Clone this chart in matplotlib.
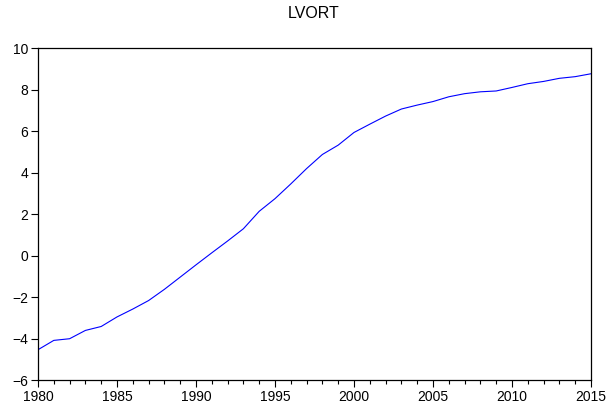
import matplotlib.pyplot as plt
from matplotlib.ticker import MultipleLocator

plt.rcParams['font.family'] = ['Liberation Sans', 'DejaVu Sans']

years = list(range(1980, 2016))
lvort = [-4.54, -4.09, -4.01, -3.61, -3.42, -2.96, -2.58, -2.17, -1.63, -1.04,
         -0.45, 0.13, 0.70, 1.29, 2.13, 2.74, 3.45, 4.19, 4.87, 5.32,
         5.93, 6.33, 6.72, 7.06, 7.25, 7.42, 7.65, 7.80, 7.89, 7.93,
         8.10, 8.28, 8.39, 8.54, 8.62, 8.76]

fig = plt.figure(figsize=(6.09, 4.07), dpi=100)
ax = fig.add_axes([0.0624, 0.0663, 0.908, 0.8157])

ax.plot(years, lvort, color='#0000ff', linewidth=0.8)

ax.set_xlim(1980, 2015)
ax.set_ylim(-6, 10)
ax.xaxis.set_major_locator(MultipleLocator(5))
ax.xaxis.set_minor_locator(MultipleLocator(1))
ax.yaxis.set_major_locator(MultipleLocator(2))

for s in ax.spines.values():
    s.set_linewidth(0.9)
    s.set_color('black')

ax.tick_params(axis='both', which='major', direction='out', length=5,
               width=0.8, labelsize=10, pad=2)
ax.tick_params(axis='x', which='minor', direction='out', length=3, width=0.8)
ax.tick_params(top=False, right=False)

fig.text(0.5156, 0.968, 'LVORT', ha='center', va='center', fontsize=11.5)

fig.savefig('out.png', dpi=100)
